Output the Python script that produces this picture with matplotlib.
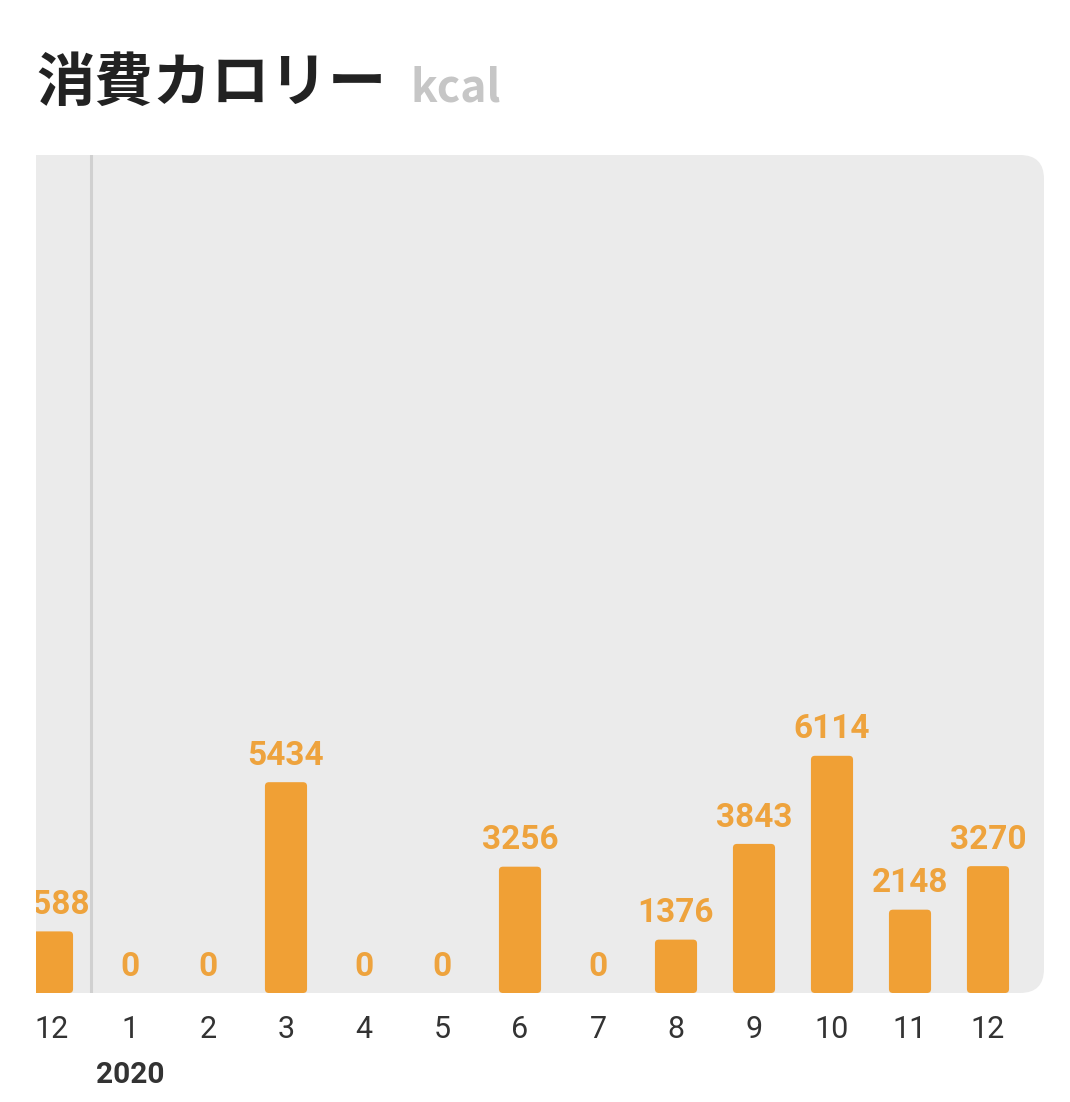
import matplotlib
matplotlib.use("Agg")
import matplotlib.pyplot as plt
from matplotlib.patches import FancyBboxPatch

# données : consommation mensuelle (déc. 2019 -> déc. 2020)
months = ["12", "1", "2", "3", "4", "5", "6", "7", "8", "9", "10", "11", "12"]
kcal = [1588, 0, 0, 5434, 0, 0, 3256, 0, 1376, 3843, 6114, 2148, 3270]
year_label = "2020"
year_index = 1

bar_color = "#f0a035"
label_color = "#eea33d"
panel_color = "#ebebeb"
text_color = "#333333"

W, H = 1070, 1102
fig = plt.figure(figsize=(W / 100, H / 100), dpi=100)
fig.patch.set_facecolor("white")

ax_l, ax_b, ax_w, ax_h = 36, 109, 1008, 838
ax = fig.add_axes([ax_l / W, ax_b / H, ax_w / W, ax_h / H])
ax.set_facecolor("none")
ax.set_xlim(-0.205, 12.718)
ax.set_ylim(0, 21600)
ax.spines[['left', 'right', 'top', 'bottom']].set_visible(False)
ax.set_yticks([])

# fond gris arrondi à droite (coupé à gauche)
r = 24
panel = FancyBboxPatch((-0.2, 0), 1.2, 1, transform=ax.transAxes,
                       boxstyle="round,pad=0,rounding_size=%f" % (r / ax_w),
                       mutation_aspect=ax_w / ax_h, fc=panel_color, ec="none", zorder=0)
ax.add_patch(panel)

# séparateur d'année
ax.axvline(year_index - 0.5, color="#d0d0d0", lw=2.2, zorder=1)

# barres arrondies
x0, x1 = ax.get_xlim()
y0, y1 = ax.get_ylim()
px_x = ax_w / (x1 - x0)
px_y = ax_h / (y1 - y0)
bars = ax.bar(range(len(kcal)), kcal, width=0.54, color=bar_color, zorder=2)
for b in bars:
    if b.get_height() > 0:
        rr = FancyBboxPatch((b.get_x(), 0), b.get_width(), b.get_height(),
                            boxstyle="round,pad=0,rounding_size=%f" % (4 / px_x),
                            mutation_aspect=px_x / px_y, fc=bar_color, ec="none", zorder=2)
        ax.add_patch(rr)
    b.set_visible(False)

for i, v in enumerate(kcal):
    ax.annotate(str(v), xy=(i, v), xytext=(0, 12.5), textcoords="offset points",
                ha="center", va="baseline", fontsize=24, fontweight="bold",
                family="Roboto", color=label_color, clip_on=True, zorder=3)

ax.set_xticks(range(len(months)), months)
ax.tick_params(axis="x", length=0, pad=16, labelsize=22, labelcolor=text_color)
for t in ax.get_xticklabels():
    t.set_family("Roboto")

ax.annotate(year_label, xy=(year_index, 0), xycoords=("data", "axes fraction"),
            xytext=(0, -64.8), textcoords="offset points", ha="center", va="baseline",
            fontsize=21.5, fontweight="bold", family="Roboto", color=text_color,
            annotation_clip=False)

# titre
fig.text(36 / W, 1 - 101 / H, "消費カロリー", fontsize=42, fontweight="bold",
         family=["Noto Sans CJK JP", "DejaVu Sans"], color="#222222", va="baseline")
fig.text(411 / W, 1 - 101 / H, "kcal", fontsize=32, fontweight="bold",
         family=["Noto Sans CJK JP", "DejaVu Sans"], color="#c6c6c6", va="baseline")

fig.savefig("out.png", dpi=100)
